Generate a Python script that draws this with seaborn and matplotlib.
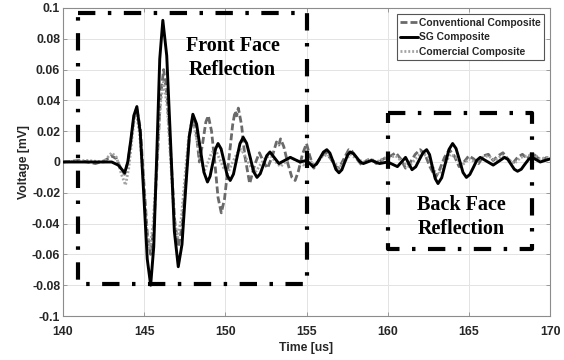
import numpy as np
import pandas as pd
import matplotlib
matplotlib.use("Agg")
import matplotlib.pyplot as plt
import seaborn as sns

# ---- signal samples: time [us] and voltage [mV] ----
sg_time = [140.0, 142.5, 143.0, 143.4, 143.8, 143.99, 144.18, 144.36, 144.55,
           144.76, 144.98, 145.19, 145.4, 145.59, 145.78, 145.96, 146.15,
           146.39, 146.63, 146.86, 147.1, 147.33, 147.55, 147.78, 148.0,
           148.23, 148.45, 148.68, 148.9, 149.06, 149.23, 149.39, 149.55,
           149.74, 149.93, 150.11, 150.3, 150.5, 150.7, 150.9, 151.1,
           151.31, 151.53, 151.74, 151.95, 152.15, 152.35, 152.55, 152.75,
           153.02, 153.3, 153.65, 154.0, 154.3, 154.6, 155.0, 155.4, 155.61,
           155.83, 156.04, 156.25, 156.44, 156.63, 156.81, 157.0, 157.18,
           157.35, 157.53, 157.7, 157.9, 158.1, 158.3, 158.5, 159.0, 159.5,
           160.0, 160.3, 160.6, 160.85, 161.1, 161.3, 161.5, 161.73, 161.95,
           162.18, 162.4, 162.58, 162.75, 162.93, 163.1, 163.33, 163.55,
           163.78, 164.0, 164.21, 164.43, 164.64, 164.85, 165.06, 165.28,
           165.49, 165.7, 166.1, 166.5, 166.85, 167.2, 167.4, 167.6, 167.8,
           168.0, 168.23, 168.45, 168.68, 168.9, 169.4, 170.0]
sg_volt = [0.000, 0.000, 0.000, -0.002, -0.007, 0.000, 0.0145, 0.030, 0.036,
           0.019, -0.022, -0.063, -0.080, -0.055, 0.006, 0.067, 0.092,
           0.069, 0.012, -0.045, -0.068, -0.0535, -0.0185, 0.0165, 0.031,
           0.0246, 0.009, -0.0066, -0.013, -0.0093, -0.0005, 0.0083, 0.012,
           0.0085, 0.000, -0.0085, -0.012, -0.0079, 0.002, 0.0119, 0.016,
           0.0122, 0.003, -0.0062, -0.010, -0.0076, -0.0018, 0.0041, 0.0065,
           0.0028, -0.001, 0.001, 0.003, 0.0015, 0.000, 0.001, -0.003, -0.0014,
           0.0025, 0.0064, 0.008, 0.0058, 0.0005, -0.0048, -0.007, -0.005,
           -0.0003, 0.0045, 0.0065, 0.0054, 0.0028, 0.0001, -0.001, 0.001, -0.001,
           0.000, -0.0015, -0.003, 0.000, 0.003, -0.001, -0.005, -0.0031, 0.0015,
           0.0061, 0.008, 0.0048, -0.003, -0.0108, -0.014, -0.0102, -0.001,
           0.0082, 0.012, 0.0088, 0.001, -0.0068, -0.010, -0.0081, -0.0035,
           0.0011, 0.003, 0.0005, -0.002, 0.0005, 0.003, 0.0017, -0.0015, -0.0047,
           -0.006, -0.0047, -0.0015, 0.0017, 0.003, 0.000, 0.002]

conv_time = [140.0, 141.0, 142.0, 142.6, 143.0, 143.3, 143.55, 143.8, 144.0,
             144.18, 144.36, 144.55, 144.76, 144.98, 145.19, 145.4, 145.6,
             145.8, 146.0, 146.2, 146.42, 146.65, 146.88, 147.1, 147.33,
             147.55, 147.78, 148.0, 148.2, 148.4, 148.6, 148.8, 148.95,
             149.15, 149.35, 149.55, 149.75, 149.95, 150.2, 150.45, 150.6,
             150.7, 150.8, 151.0, 151.2, 151.5, 151.8, 152.1, 152.35, 152.6,
             152.9, 153.15, 153.3, 153.4, 153.6, 153.85, 154.1, 154.3, 154.5,
             154.75, 155.0, 155.2, 155.45, 155.7, 155.95, 156.2, 156.5, 156.8,
             157.0, 157.3, 157.6, 157.8, 158.1, 158.4, 158.7, 159.0, 159.3,
             159.6, 159.9, 160.2, 160.5, 160.8, 161.1, 161.35, 161.7, 162.0,
             162.3, 162.6, 162.95, 163.2, 163.5, 163.8, 164.1, 164.4, 164.7,
             165.0, 165.3, 165.6, 165.9, 166.2, 166.5, 166.8, 167.1, 167.4,
             167.7, 168.0, 168.3, 168.6, 168.9, 169.2, 169.5, 169.8, 170.0]
conv_volt = [0.000, 0.001, -0.001, 0.001, 0.004, 0.002, -0.004, -0.008, 0.000,
             0.013, 0.028, 0.034, 0.022, -0.013, -0.046, -0.060, -0.041,
             0.000, 0.042, 0.060, 0.042, 0.003, -0.038, -0.055, -0.042,
             -0.014, 0.017, 0.028, 0.020, 0.000, 0.012, 0.026, 0.030,
             0.020, 0.000, -0.023, -0.033, -0.024, 0.000, 0.024, 0.033,
             0.030, 0.035, 0.024, 0.004, -0.014, -0.002, 0.006, 0.000, -0.004,
             0.004, 0.013, 0.011, 0.015, 0.010, -0.001, -0.010, -0.012, -0.006,
             0.005, 0.012, 0.004, -0.004, 0.000, 0.004, 0.006, 0.002, -0.003,
             -0.004, 0.002, 0.008, 0.007, 0.002, -0.002, 0.001, 0.002, -0.001,
             0.001, 0.003, 0.004, 0.006, 0.002, -0.004, -0.001, 0.005, 0.008,
             0.005, -0.003, -0.010, -0.005, 0.003, 0.008, 0.004, -0.003, 0.000,
             0.004, 0.002, -0.001, 0.004, 0.005, 0.001, 0.004, 0.006, 0.002,
             -0.001, 0.003, 0.005, 0.002, 0.006, 0.003, 0.001, 0.003, 0.002]

com_time = [140.0, 141.5, 142.5, 143.0, 143.3, 143.6, 143.85, 144.05, 144.25,
            144.4, 144.5, 144.72, 144.95, 145.15, 145.35, 145.55, 145.78,
            146.0, 146.2, 146.42, 146.63, 146.85, 147.05, 147.28, 147.5,
            147.73, 147.95, 148.15, 148.35, 148.5, 148.7, 148.9, 149.15,
            149.4, 149.6, 149.9, 150.2, 150.45, 150.75, 151.0, 151.3, 151.6,
            151.9, 152.2, 152.5, 152.8, 153.1, 153.4, 153.7, 154.0, 154.4,
            154.8, 155.1, 155.5, 155.9, 156.3, 156.7, 157.0, 157.4, 157.7,
            158.1, 158.5, 158.9, 159.3, 159.7, 160.1, 160.5, 160.9, 161.3,
            161.7, 162.1, 162.5, 162.9, 163.2, 163.5, 163.85, 164.2, 164.6,
            165.0, 165.4, 165.8, 166.2, 166.6, 167.0, 167.4, 167.8, 168.2,
            168.6, 169.0, 169.4, 169.8, 170.0]
com_volt = [0.000, 0.001, 0.000, 0.006, 0.003, -0.008, -0.015, -0.004, 0.015,
            0.029, 0.033, 0.018, -0.012, -0.044, -0.057, -0.040, -0.002,
            0.038, 0.052, 0.036, 0.001, -0.036, -0.050, -0.037, -0.011,
            0.015, 0.028, 0.019, 0.009, 0.001, -0.006, -0.001, 0.006,
            0.008, 0.003, -0.004, -0.006, 0.000, 0.006, 0.008, 0.002, -0.004,
            -0.006, -0.001, 0.003, 0.004, 0.000, -0.003, 0.000, 0.003, 0.001,
            -0.002, 0.002, -0.002, 0.003, 0.005, 0.000, -0.004, 0.001, 0.005,
            0.002, 0.000, 0.002, 0.000, 0.002, 0.003, 0.004, 0.000, -0.003,
            0.002, 0.006, 0.003, -0.006, -0.008, -0.002, 0.005, 0.003, -0.002,
            0.002, 0.000, 0.003, 0.004, 0.001, 0.004, 0.002, -0.001, 0.003,
            0.004, 0.005, 0.002, 0.003, 0.002]

series_names = ["Conventional Composite", "SG Composite", "Comercial Composite"]
x_ticks = [140, 145, 150, 155, 160, 165, 170]
y_ticks = [0.1, 0.08, 0.06, 0.04, 0.02, 0, -0.02, -0.04, -0.06, -0.08, -0.1]
y_tick_labels = ["0.1", "0.08", "0.06", "0.04", "0.02", "0",
                 "-0.02", "-0.04", "-0.06", "-0.08", "-0.1"]

# region outlines (time range, voltage range)
front_box_t = (140.9, 155.0)
front_box_v = (-0.079, 0.097)
back_box_t = (160.0, 168.9)
back_box_v = (-0.0565, 0.032)

sns.set_theme(style="whitegrid")
plt.rcParams["lines.scale_dashes"] = False
plt.rcParams["font.family"] = ["Liberation Sans", "DejaVu Sans"]

fig = plt.figure(figsize=(5.64, 3.60), dpi=100)
ax = fig.add_axes([0.1117, 0.1222, 0.8635, 0.8556])

conv_df = pd.DataFrame({"t": conv_time, "v": conv_volt})
sg_df = pd.DataFrame({"t": sg_time, "v": sg_volt})
com_df = pd.DataFrame({"t": com_time, "v": com_volt})

sns.lineplot(data=conv_df, x="t", y="v", ax=ax, color="#6a6a6a", lw=2.0,
             sort=False, zorder=3)
ax.lines[-1].set_dashes([5, 2.2])
sns.lineplot(data=com_df, x="t", y="v", ax=ax, color="#a4a4a4", lw=2.0,
             sort=False, zorder=4)
ax.lines[-1].set_dashes([1.4, 1.4])
sns.lineplot(data=sg_df, x="t", y="v", ax=ax, color="black", lw=2.1,
             sort=False, zorder=5)
conv_line, com_line, sg_line = ax.lines[0], ax.lines[1], ax.lines[2]

# dash-dot outlines of the reflection regions
box_dashes = [12.5, 9, 2.5, 9]
for (t0, t1), (v0, v1) in [(front_box_t, front_box_v), (back_box_t, back_box_v)]:
    ln, = ax.plot([t0, t1, t1, t0, t0], [v1, v1, v0, v0, v1], color="black",
                  lw=3.0, zorder=6, solid_capstyle="butt", dash_capstyle="butt")
    ln.set_dashes(box_dashes)

serif_bold = dict(family=["Liberation Serif", "DejaVu Serif"], weight="bold",
                  fontsize=14.5, ha="center", va="center", linespacing=1.25,
                  color="black")
ax.text(150.45, 0.0675, "Front Face\nReflection", zorder=7, **serif_bold)
ax.text(164.55, -0.0355, "Back Face\nReflection", zorder=7, **serif_bold)

ax.set_xlim(140, 170)
ax.set_ylim(-0.1, 0.1)
ax.set_xticks(x_ticks)
ax.set_xticklabels([str(v) for v in x_ticks])
ax.set_yticks(y_ticks)
ax.set_yticklabels(y_tick_labels)

for lab in ax.get_xticklabels() + ax.get_yticklabels():
    lab.set_fontsize(8.8)
    lab.set_fontweight("bold")
    lab.set_color("#262626")
ax.tick_params(axis="both", which="both", direction="in", length=3,
               width=0.6, color="#8c8c8c", top=True, right=True,
               bottom=True, left=True)
ax.tick_params(axis="x", pad=7)
ax.tick_params(axis="y", pad=2)

ax.set_xlabel("Time [us]", fontsize=8.8, fontweight="bold", color="#262626",
              labelpad=3)
ax.set_ylabel("Voltage [mV]", fontsize=8.8, fontweight="bold", color="#262626",
              labelpad=1)

ax.grid(True, color="#e3e3e3", lw=0.7)
ax.set_facecolor("white")
for sp in ax.spines.values():
    sp.set_visible(True)
    sp.set_color("#8c8c8c")
    sp.set_linewidth(0.8)

leg = ax.legend([conv_line, sg_line, com_line], series_names,
                loc="upper right", bbox_to_anchor=(0.9875, 0.979),
                prop=dict(family=["Liberation Sans", "DejaVu Sans"],
                          weight="bold", size=7.4),
                handlelength=1.7, handletextpad=0.15, borderpad=0.3,
                labelspacing=0.45, borderaxespad=0.0, frameon=True,
                fancybox=False, framealpha=1.0)
leg.get_frame().set_edgecolor("#555555")
leg.get_frame().set_linewidth(0.8)
for t in leg.get_texts():
    t.set_color("#262626")
leg.set_zorder(8)

fig.savefig("out.png", dpi=100, facecolor="white")
